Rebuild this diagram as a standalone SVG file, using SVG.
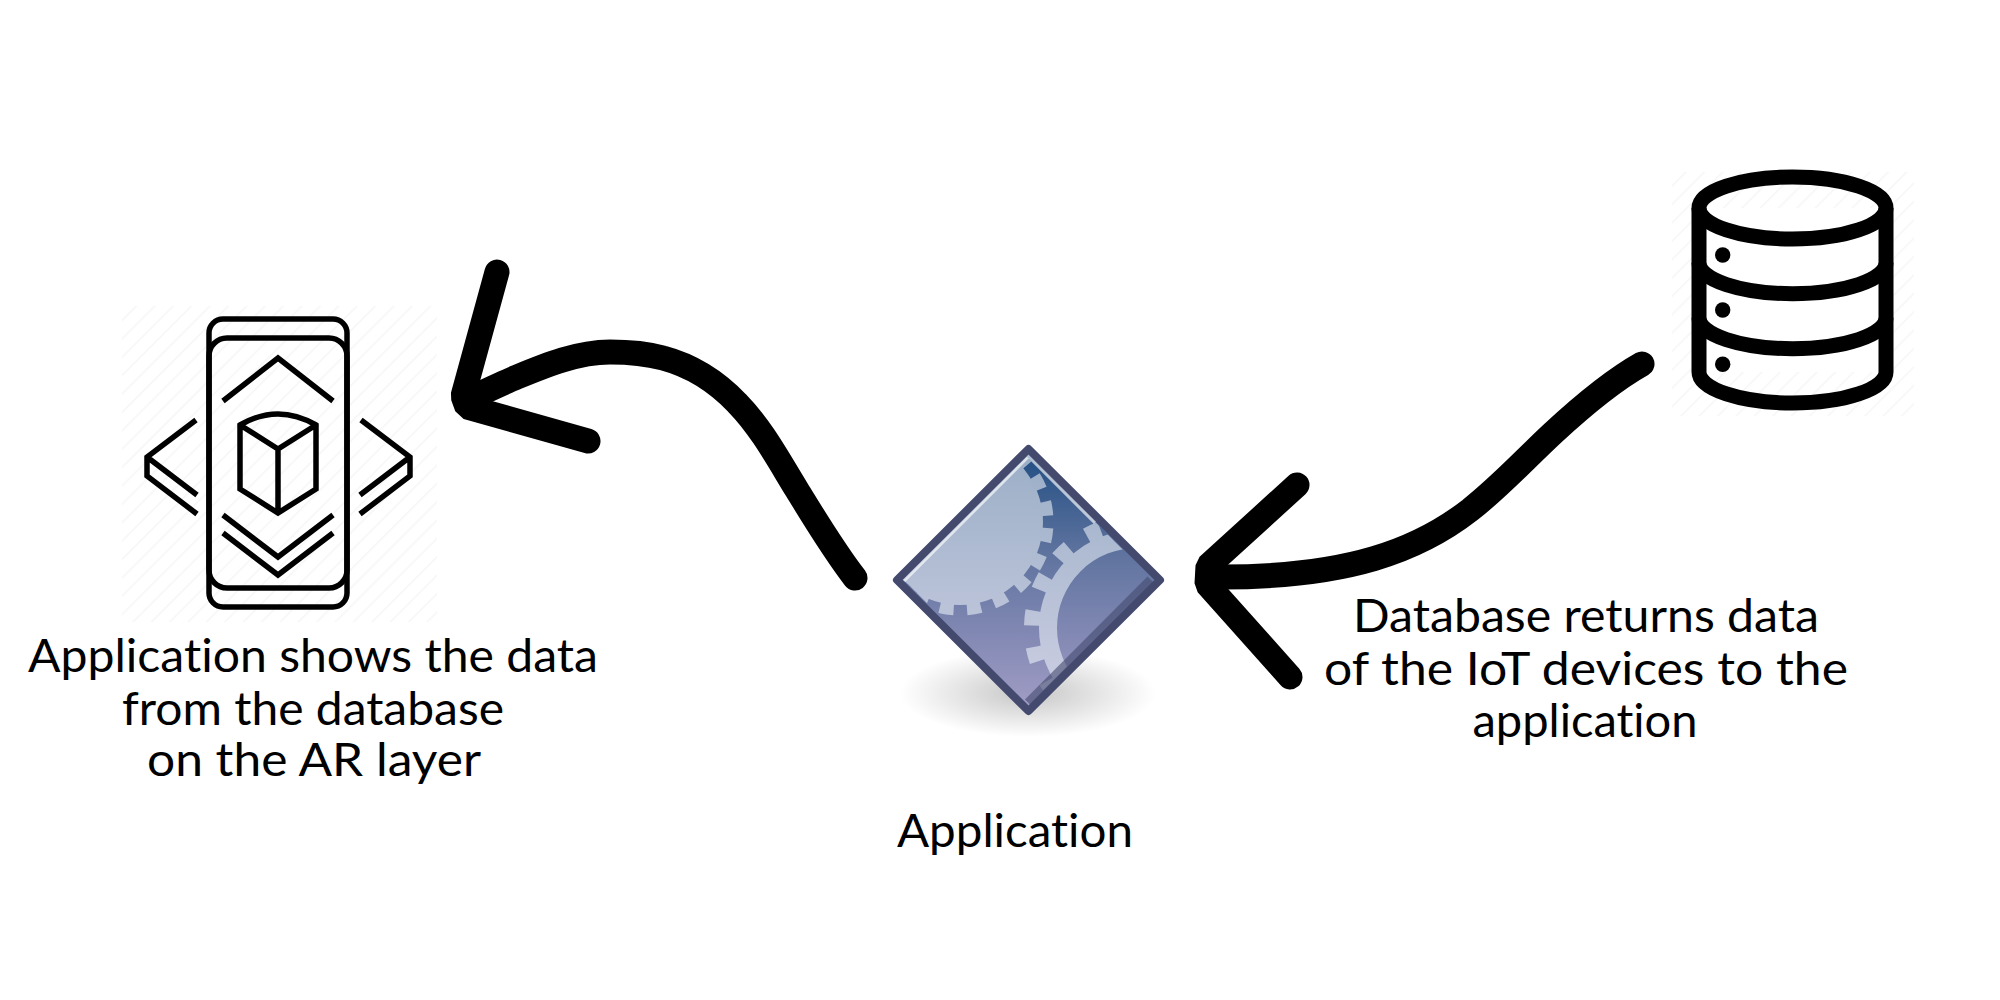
<svg xmlns="http://www.w3.org/2000/svg" width="2000" height="1000" viewBox="0 0 2000 1000">
<style>
.lbl{font-family:"Lato","Open Sans","Liberation Sans",sans-serif;font-size:46px;fill:#000;text-anchor:middle;font-variant-ligatures:none}
.ar{fill:none;stroke:#000;stroke-width:5.5;stroke-linejoin:miter}
.db{fill:none;stroke:#000;stroke-width:15}
.arrow{fill:none;stroke:#000;stroke-width:25;stroke-linecap:round;stroke-linejoin:bevel}
</style>
<defs>
<pattern id="hatch" width="13" height="13" patternUnits="userSpaceOnUse" patternTransform="rotate(45)">
<rect width="13" height="13" fill="#fff"/><rect width="1.5" height="13" fill="#f6f6f6"/>
</pattern>
<linearGradient id="bg" gradientUnits="userSpaceOnUse" x1="0" y1="450" x2="0" y2="710">
<stop offset="0" stop-color="#1f4d82"/><stop offset=".4" stop-color="#5f739f"/><stop offset="1" stop-color="#a29dc6"/>
</linearGradient>
<linearGradient id="lite" gradientUnits="userSpaceOnUse" x1="0" y1="450" x2="0" y2="710">
<stop offset="0" stop-color="#9aaec6"/><stop offset="1" stop-color="#cfd0e4"/>
</linearGradient>
<radialGradient id="sh"><stop offset="0" stop-color="#c6c6c6"/><stop offset="1" stop-color="#fff"/></radialGradient>
<clipPath id="dia"><path d="M1028.5,455L1153,580L1028.5,705L904,580Z"/></clipPath>
</defs>
<rect width="2000" height="1000" fill="#fff"/>

<g id="ar-phone">
<rect x="122" y="306" width="315" height="316" fill="url(#hatch)"/>
<rect class="ar" x="209" y="319" width="138" height="288" rx="14"/>
<rect class="ar" x="209" y="338" width="138" height="250" rx="18"/>
<path class="ar" d="M223,401L278,358L333,401"/>
<path class="ar" d="M240,425Q278,403 316,425V489L278,513L240,489ZM240,425L278,449L316,425M278,449V513"/>
<path class="ar" d="M196,420L147,457V476L197,514M147,457L197,495"/>
<path class="ar" d="M361,420L410,457V476L360,514M410,457L360,495"/>
<path class="ar" d="M223,515L278,557L333,515M223,533L278,575L333,533"/>
</g>

<g id="application">
<ellipse cx="1028" cy="693" rx="128" ry="44" fill="url(#sh)"/>
<path d="M1028.5,449L1160,580L1028.5,711L897,580Z" fill="url(#bg)"/>
<g clip-path="url(#dia)">
<circle cx="960" cy="522" r="83" fill="url(#lite)"/>
<circle cx="960" cy="522" r="87" fill="none" stroke="url(#lite)" stroke-width="13" stroke-dasharray="14 13.33" transform="rotate(4 960 522)"/>
<circle cx="1137" cy="628" r="89" fill="none" stroke="url(#lite)" stroke-width="18"/>
<circle cx="1137" cy="628" r="105" fill="none" stroke="url(#lite)" stroke-width="16" stroke-dasharray="15 21.65" transform="rotate(1.2 1137 628)"/>
</g>
<path d="M903,580L1028.5,454.500L1096,522" fill="none" stroke="#fff" stroke-opacity=".65" stroke-width="6"/>
<path d="M1151,580L1028.500,703" fill="none" stroke="#434a6e" stroke-opacity=".6" stroke-width="10"/>
<path d="M1028.5,449L1160,580L1028.5,711L897,580Z" fill="none" stroke="#434a6e" stroke-width="8" stroke-linejoin="round"/>
</g>

<g id="database">
<rect x="1672" y="172" width="242" height="244" fill="url(#hatch)"/>
<rect x="1699" y="208" width="187" height="164" fill="#fff"/>
<ellipse class="db" cx="1792.5" cy="208" rx="93.5" ry="31"/>
<path class="db" d="M1699,208V372A93.5,31 0 0 0 1886,372V208"/>
<path class="db" d="M1699,262.7A93.5,31 0 0 0 1886,262.7M1699,317.7A93.5,31 0 0 0 1886,317.7"/>
<circle cx="1722.7" cy="255" r="7.7"/><circle cx="1722.7" cy="310" r="7.7"/><circle cx="1722.7" cy="364.3" r="7.7"/>
</g>

<g id="connectors">
<path class="arrow" d="M1642,364C1610,382 1580,408 1553,433C1525,459 1500,486.500 1470,510C1420,549 1350,578 1215,577"/>
<path class="arrow" d="M1297,485L1208,566L1207,584L1290,677"/>
<path class="arrow" d="M855,578C833.600,550.400 815.500,520 797,490C778.500,460 761.500,428 737,403C717,382 691,365.500 663,358C646,353.400 628,352 610,352C578,352 546,365 517,377C505,382 490,389 475,396"/>
<path class="arrow" d="M497,272L463,396L467,407L588,441"/>
</g>

<g id="labels">
<text class="lbl" x="313" y="672" textLength="570" lengthAdjust="spacingAndGlyphs">Application shows the data</text>
<text class="lbl" x="313" y="725" textLength="382" lengthAdjust="spacingAndGlyphs">from the database</text>
<text class="lbl" x="314" y="776" textLength="334" lengthAdjust="spacingAndGlyphs">on the AR layer</text>
<text class="lbl" x="1015" y="847" textLength="236" lengthAdjust="spacingAndGlyphs">Application</text>
<text class="lbl" x="1586" y="632" textLength="466" lengthAdjust="spacingAndGlyphs">Database returns data</text>
<text class="lbl" x="1586" y="685" textLength="524" lengthAdjust="spacingAndGlyphs">of the IoT devices to the</text>
<text class="lbl" x="1585" y="737" textLength="225" lengthAdjust="spacingAndGlyphs">application</text>
</g>
</svg>
